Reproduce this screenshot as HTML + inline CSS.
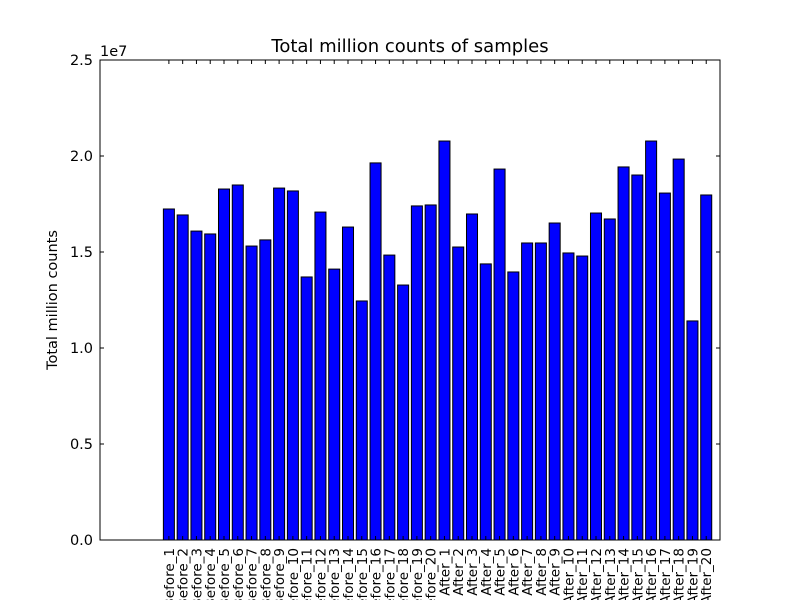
<!DOCTYPE html>
<html><head><meta charset="utf-8"><style>body{margin:0;background:#fff}svg{display:block;font-family:"DejaVu Sans","Liberation Sans",sans-serif}</style></head>
<body>
<svg id="chart" width="800" height="600"></svg>
<script>
const categories = [];
for (let i = 1; i <= 20; i++) categories.push('Before_' + i);
for (let i = 1; i <= 20; i++) categories.push('After_' + i);
const values = [17.24,16.93,16.09,15.94,18.28,18.49,15.31,15.63,18.33,18.18,13.70,17.08,14.11,16.30,12.45,19.64,14.84,13.28,17.40,17.45,
20.78,15.26,16.98,14.38,19.32,13.96,15.47,15.47,16.51,14.95,14.79,17.03,16.72,19.43,19.01,20.78,18.07,19.84,11.41,17.97];
const yTicks = [0, 5, 10, 15, 20, 25];
const yTickLabels = ['0.0','0.5','1.0','1.5','2.0','2.5'];

const NS = 'http://www.w3.org/2000/svg';
const svg = document.getElementById('chart');
const L = 100, R = 720, T = 60, B = 540;
const xMin = -5.0, xMax = 40.0;
const x = v => L + (v - xMin) / (xMax - xMin) * (R - L);
const y = v => B - v / 25 * (B - T);
function mk(tag, attrs, parent) { const e = document.createElementNS(NS, tag); for (const k in attrs) e.setAttribute(k, attrs[k]); (parent || svg).appendChild(e); return e; }

const bars = mk('g', {});


values.forEach((v, i) => {
  const r = mk('rect', {x: x(i - 0.4), y: y(v), width: x(0.8) - x(0), height: y(0) - y(v), fill: '#0000ff', stroke: '#000', 'stroke-width': 1}, bars);
  
  
});

const ax = mk('rect', {x: L, y: T, width: R - L, height: B - T, fill: 'none', stroke: '#000', 'stroke-width': 1});



yTicks.forEach((t, i) => {
  const yy = y(t);
  mk('line', {x1: L, x2: L + 4, y1: yy, y2: yy, stroke: '#000'});
  mk('line', {x1: R - 4, x2: R, y1: yy, y2: yy, stroke: '#000'});
  const tx = mk('text', {x: L - 7, y: yy + 5, 'text-anchor': 'end', 'font-size': 14.5});
  tx.textContent = yTickLabels[i];
  
  
});

categories.forEach((c, i) => {
  const xx = x(i);
  mk('line', {x1: xx, x2: xx, y1: B, y2: B - 4, stroke: '#000'});
  mk('line', {x1: xx, x2: xx, y1: T, y2: T + 4, stroke: '#000'});
  const tx = mk('text', {transform: `translate(${xx + 5},${B + 8}) rotate(-90)`, 'text-anchor': 'end', 'font-size': 13.5});
  tx.textContent = c;
  
  
});

const title = mk('text', {x: 410, y: 52, 'text-anchor': 'middle', 'font-size': 18});
title.textContent = 'Total million counts of samples';



const off = mk('text', {x: 100, y: 56, 'font-size': 14.5});
off.textContent = '1e7';



const yl = mk('text', {transform: 'translate(57,300) rotate(-90)', 'text-anchor': 'middle', 'font-size': 14.5});
yl.textContent = 'Total million counts';


</script>
</body></html>
